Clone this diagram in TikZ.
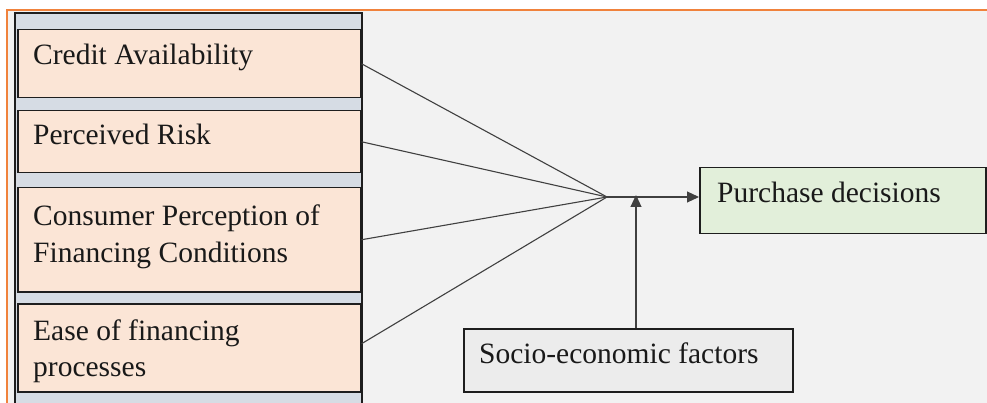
\documentclass[tikz,border=0pt]{standalone}
\usepackage{fontspec}
\setmainfont{Liberation Serif}
\usetikzlibrary{arrows.meta}
\definecolor{bgray}{RGB}{242,242,242}
\definecolor{frameor}{RGB}{240,130,60}
\definecolor{contfill}{RGB}{214,220,228}
\definecolor{peach}{RGB}{251,229,214}
\definecolor{lgreen}{RGB}{226,239,218}
\definecolor{sgray}{RGB}{236,236,236}
\definecolor{edge}{RGB}{30,30,30}
\definecolor{conn}{RGB}{64,64,64}
\tikzset{
  box/.style={draw=edge, line width=1.5pt, rectangle, inner sep=0pt, anchor=north west},
  pbox/.style={box, fill=peach},
  txt/.style={anchor=base west, inner sep=0pt, font=\fontsize{29.5}{36}\selectfont, text=black!90, align=left},
  conline/.style={draw=conn, line width=1.1pt},
  arr/.style={conline, -{Triangle[length=12pt,width=11pt]}}
}
\begin{document}
\begin{tikzpicture}[x=1pt,y=-1pt]
\useasboundingbox (0,0) rectangle (987,403);
\begin{scope}
\clip (0,0) rectangle (987,403);
\fill[white] (0,0) rectangle (987,403);
\draw[fill=bgray, draw=frameor, line width=2.8pt] (7,10) rectangle (1000,420);
\draw[fill=contfill, draw=edge, line width=1.8pt] (15,13) rectangle (362,420);
\end{scope}
\node[pbox, minimum width=343pt, minimum height=68pt] (b1) at (17,29) {};
\node[pbox, minimum width=343pt, minimum height=62pt] (b2) at (17,110) {};
\node[pbox, minimum width=343pt, minimum height=104pt] (b3) at (17,187) {};
\node[pbox, minimum width=343pt, minimum height=88pt] (b4) at (17,303) {};
\node[txt] (t1) at (33,65) {Credit Availability};
\node[txt] (t2) at (33,145) {Perceived Risk};
\node[txt] (t3) at (33,262) {Consumer Perception of\\Financing Conditions};
\node[txt] (t4) at (33,376) {Ease of financing\\processes};
\node[box, fill=lgreen, minimum width=286pt, minimum height=66pt] (pd) at (699,167) {};
\node[txt] (tpd) at (717,203) {Purchase decisions};
\node[box, fill=sgray, minimum width=329pt, minimum height=63pt] (se) at (463,328) {};
\node[txt] (tse) at (479,363) {Socio-economic factors};
\coordinate (j) at (607,197);
\coordinate (sj) at (636,197);
\draw[conline] (b1.east) -- (j);
\draw[conline] (b2.east) -- (j);
\draw[conline] (b3.east) -- (j);
\draw[conline] ([yshift=4pt]b4.east) -- (j);
\draw[arr] (j) -- (j -| pd.west);
\draw[arr] (se.north -| sj) -- ([yshift=2pt]sj);
\end{tikzpicture}
\end{document}
